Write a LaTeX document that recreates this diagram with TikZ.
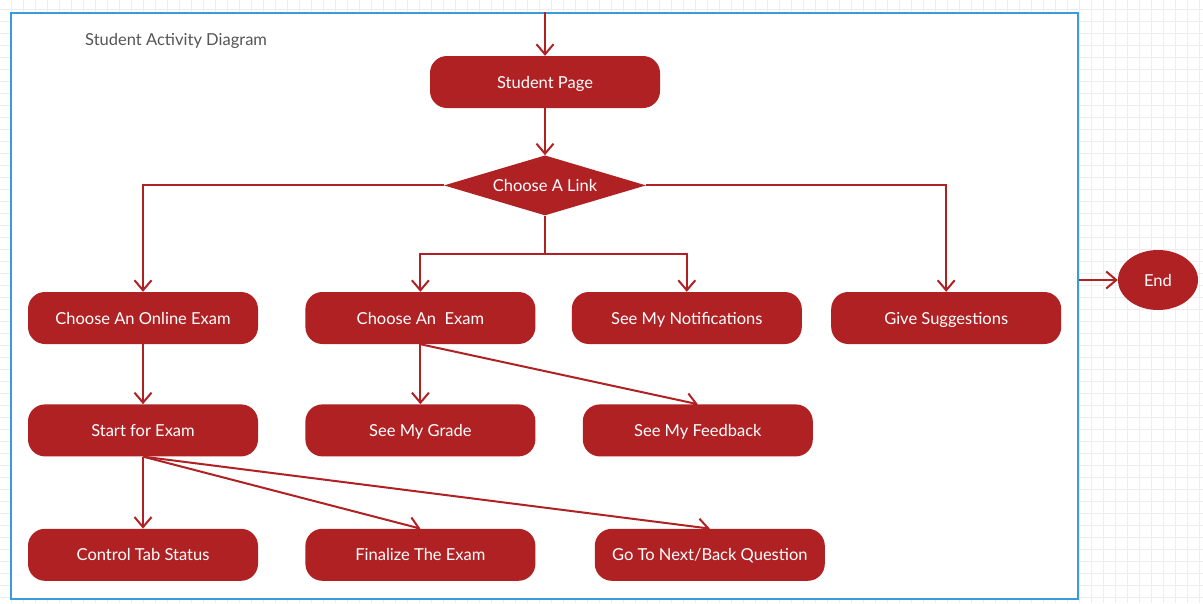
\documentclass[tikz,border=0pt]{standalone}
\usepackage{fontspec}
\setmainfont{Lato}
\usetikzlibrary{positioning, arrows.meta, shapes.geometric}
\definecolor{actred}{HTML}{B02124}
\definecolor{frameblue}{HTML}{3A9BDC}
\definecolor{gridgray}{HTML}{EDEDED}
\definecolor{titlegray}{HTML}{555555}

\begin{document}
\begin{tikzpicture}[
    x=1pt, y=-1pt,
    activity/.style={rectangle, fill=actred, text=white, rounded corners=17pt,
                minimum width=230pt, minimum height=52pt, inner sep=0pt,
                text height=13.5pt, text depth=1.5pt,
                font=\fontsize{16.5}{19}\selectfont},
    decision/.style={diamond, fill=actred, text=white, inner sep=0pt,
                shape aspect=3.4, minimum width=202pt, minimum height=60pt,
                text height=13.5pt, text depth=1.5pt,
                font=\fontsize{16.5}{19}\selectfont},
    final/.style={ellipse, fill=actred, text=white, inner sep=0pt,
                minimum width=80pt, minimum height=60pt,
                text height=13.5pt, text depth=1.5pt,
                font=\fontsize{16.5}{19}\selectfont},
    frame/.style={rectangle, draw=frameblue, fill=white, line width=2.5pt,
                minimum width=1067pt, minimum height=586pt, inner sep=0pt},
    flow/.style={-{Straight Barb[length=10pt, width=17pt]}, line width=2pt, actred},
    title/.style={text=titlegray, anchor=west, inner sep=0pt,
                text height=13.5pt, text depth=1.5pt,
                font=\fontsize{16.5}{19}\selectfont}
  ]
    \useasboundingbox (0,0) rectangle (1203,603);
    \foreach \gx in {11,23,...,1203} \draw[gridgray, line width=1pt] (\gx,0) -- (\gx,603);
    \foreach \gy in {9,21,...,603} \draw[gridgray, line width=1pt] (0,\gy) -- (1203,\gy);

    \node[frame] (frame) at (544.5,306) {};
    \node[title] (heading) at (85,39) {Student Activity Diagram};

    \node[activity] (studentpage) at (545,82) {Student Page};
    \node[decision, below=47pt of studentpage] (choosealink) {Choose A Link};

    \node[activity] (onlineexam) at (143,318) {Choose An Online Exam};
    \node[activity, right=47pt of onlineexam] (chooseexam) {Choose An\ \ Exam};
    \node[activity, right=36pt of chooseexam] (notifications) {See My Notifications};
    \node[activity, right=29pt of notifications] (suggestions) {Give Suggestions};

    \node[activity, below=60pt of onlineexam] (startexam) {Start for Exam};
    \node[activity, below=60pt of chooseexam] (seegrade) {See My Grade};
    \node[activity, right=47pt of seegrade] (feedback) {See My Feedback};

    \node[activity, below=72pt of startexam] (controltab) {Control Tab Status};
    \node[activity, below=72pt of seegrade] (finalize) {Finalize The Exam};
    \node[activity, right=59pt of finalize] (nextquestion) {Go To Next/Back Question};

    \node[final] (end) at (1158,280) {End};

    \coordinate (entry) at (studentpage |- frame.north);
    \coordinate (exit) at (frame.east |- end);
    \coordinate[below=38pt of choosealink.south] (split);

    \draw[flow] (entry) -- (studentpage);
    \draw[flow] (studentpage) -- (choosealink);
    \draw[flow] (choosealink.west) -| (onlineexam.north);
    \draw[flow] (choosealink.east) -| (suggestions.north);
    \draw[flow] (choosealink.south) -- (split) -| (chooseexam.north);
    \draw[flow] (split) -| (notifications.north);
    \draw[flow] (onlineexam) -- (startexam);
    \draw[flow] (chooseexam) -- (seegrade);
    \draw[flow] (chooseexam.south) -- (feedback.north);
    \draw[flow] (startexam) -- (controltab);
    \draw[flow] (startexam.south) -- (finalize.north);
    \draw[flow] (startexam.south) -- (nextquestion.north);
    \draw[flow] (exit) -- (end);
  \end{tikzpicture}
\end{document}
